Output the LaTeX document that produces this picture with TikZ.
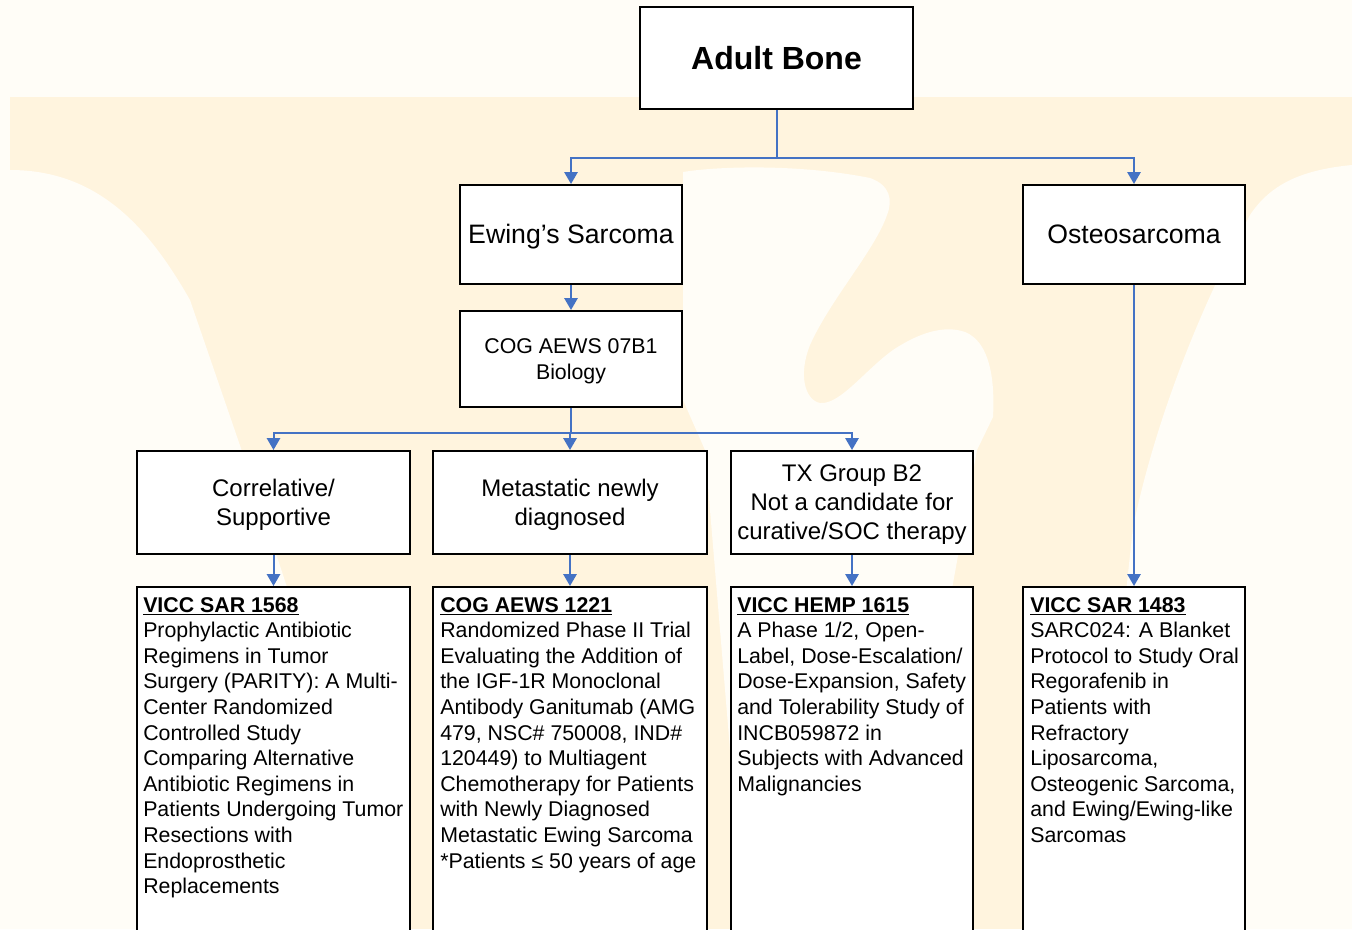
\documentclass[tikz,border=0pt]{standalone}
\usepackage{fontspec}
\setmainfont{Liberation Sans}
\usetikzlibrary{arrows.meta}
\definecolor{bgc}{RGB}{255,253,247}
\definecolor{wmc}{RGB}{255,244,222}
\definecolor{connc}{RGB}{68,114,196}
\newcommand{\lbx}{\vrule height 0.905em depth 0.212em width 0pt}
\begin{document}
\begin{tikzpicture}[x=0.75pt,y=-0.75pt,
  box/.style={draw=black, line width=1.5pt, fill=white, inner sep=2pt, align=center, text=black},
  link/.style={draw=connc, line width=1.5pt, -{Triangle[width=10pt,length=9pt]}},
  txt/.style={align=left, inner sep=0pt, anchor=north west, font=\fontsize{16}{19.2}\selectfont}]
\useasboundingbox (0,0) rectangle (1352,929);
\clip (0,0) rectangle (1352,929);
% background and watermark
\fill[bgc] (0,0) rectangle (1352,929);
\fill[wmc] (10,97) rectangle (1352,929);
\fill[bgc] (0,170) -- (10,170) .. controls (100,170) and (150,230) .. (190,300) -- (245,460) -- (400,929) -- (0,929) -- cycle;
\fill[bgc] (1352,165) .. controls (1300,170) and (1270,185) .. (1250,215) .. controls (1210,290) and (1160,400) .. (1133,527) -- (1090,929) -- (1352,929) -- cycle;
\fill[bgc] (745,929) -- (705,450) -- (683,400) -- (683,172) .. controls (720,166) and (800,164) .. (870,178) .. controls (890,185) and (893,200) .. (887,215) .. controls (875,250) and (830,300) .. (810,345) .. controls (798,375) and (805,400) .. (820,403) .. controls (840,405) and (865,370) .. (893,350) .. controls (920,332) and (945,325) .. (965,332) .. controls (990,342) and (995,380) .. (993,417) -- (977,450) -- (950,600) -- (930,929) -- cycle;
% boxes
\node[box, minimum width=204.75pt, minimum height=76.5pt, font=\fontsize{24}{28}\selectfont\bfseries] (adult) at (776.5,58) {Adult Bone};
\node[box, minimum width=166.5pt, minimum height=74.25pt, font=\fontsize{20}{24}\selectfont] (ewing) at (571,234.5) {\lbx Ewing’s Sarcoma};
\node[box, minimum width=166.5pt, minimum height=74.25pt, font=\fontsize{20}{24}\selectfont] (osteo) at (1134,234.5) {\lbx Osteosarcoma};
\node[box, minimum width=166.5pt, minimum height=72pt, font=\fontsize{16}{19.5}\selectfont] (cog) at (571,359) {\lbx COG AEWS 07B1\\\lbx Biology};
\node[box, minimum width=204.75pt, minimum height=77.25pt, font=\fontsize{18}{21.5}\selectfont] (corr) at (273.5,502.5) {\lbx Correlative/\\\lbx Supportive};
\node[box, minimum width=205.5pt, minimum height=77.25pt, font=\fontsize{18}{21.5}\selectfont] (meta) at (570,502.5) {\lbx Metastatic newly\\\lbx diagnosed};
\node[box, minimum width=181.5pt, minimum height=77.25pt, font=\fontsize{18}{21.75}\selectfont] (tx) at (852,502.5) {\lbx TX Group B2\\\lbx Not a candidate for\\\lbx curative/SOC therapy};
\node[box, minimum width=204.75pt, minimum height=279.75pt] (b1) at (273.5,773.5) {};
\node[box, minimum width=205.5pt, minimum height=279.75pt] (b2) at (570,773.5) {};
\node[box, minimum width=181.5pt, minimum height=279.75pt] (b3) at (852,773.5) {};
\node[box, minimum width=166.5pt, minimum height=279.75pt] (b4) at (1134,773.5) {};
% texts
\node[txt] (t1) at (143,597) {\underline{\textbf{VICC SAR 1568}}\\Prophylactic Antibiotic\\Regimens in Tumor\\Surgery (PARITY): A Multi-\\Center Randomized\\Controlled Study\\Comparing Alternative\\Antibiotic Regimens in\\Patients Undergoing Tumor\\Resections with\\Endoprosthetic\\Replacements};
\node[txt] (t2) at (440,597) {\underline{\textbf{COG AEWS 1221}}\\Randomized Phase II Trial\\Evaluating the Addition of\\the IGF-1R Monoclonal\\Antibody Ganitumab (AMG\\479, NSC\# 750008, IND\#\\120449) to Multiagent\\Chemotherapy for Patients\\with Newly Diagnosed\\Metastatic Ewing Sarcoma\\*Patients ≤ 50 years of age};
\node[txt] (t3) at (737,597) {\underline{\textbf{VICC HEMP 1615}}\\A Phase 1/2, Open-\\Label, Dose-Escalation/\\Dose-Expansion, Safety\\and Tolerability Study of\\INCB059872 in\\Subjects with Advanced\\Malignancies};
\node[txt] (t4) at (1030,597) {\underline{\textbf{VICC SAR 1483}}\\SARC024: A Blanket\\Protocol to Study Oral\\Regorafenib in\\Patients with\\Refractory\\Liposarcoma,\\Osteogenic Sarcoma,\\and Ewing/Ewing-like\\Sarcomas};
% connectors
\draw[link] (adult.south) -- ++(0,48) -| (ewing.north);
\draw[link] (adult.south) -- ++(0,48) -| (osteo.north);
\draw[link] (ewing.south) -- (cog.north);
\draw[link] (cog.south) -- ++(0,25) -| (corr.north);
\draw[link] (cog.south) -- ++(0,25) -| (meta.north);
\draw[link] (cog.south) -- ++(0,25) -| (tx.north);
\draw[link] (corr.south) -- (b1.north);
\draw[link] (meta.south) -- (b2.north);
\draw[link] (tx.south) -- (b3.north);
\draw[link] (osteo.south) -- (b4.north);
\end{tikzpicture}
\end{document}
